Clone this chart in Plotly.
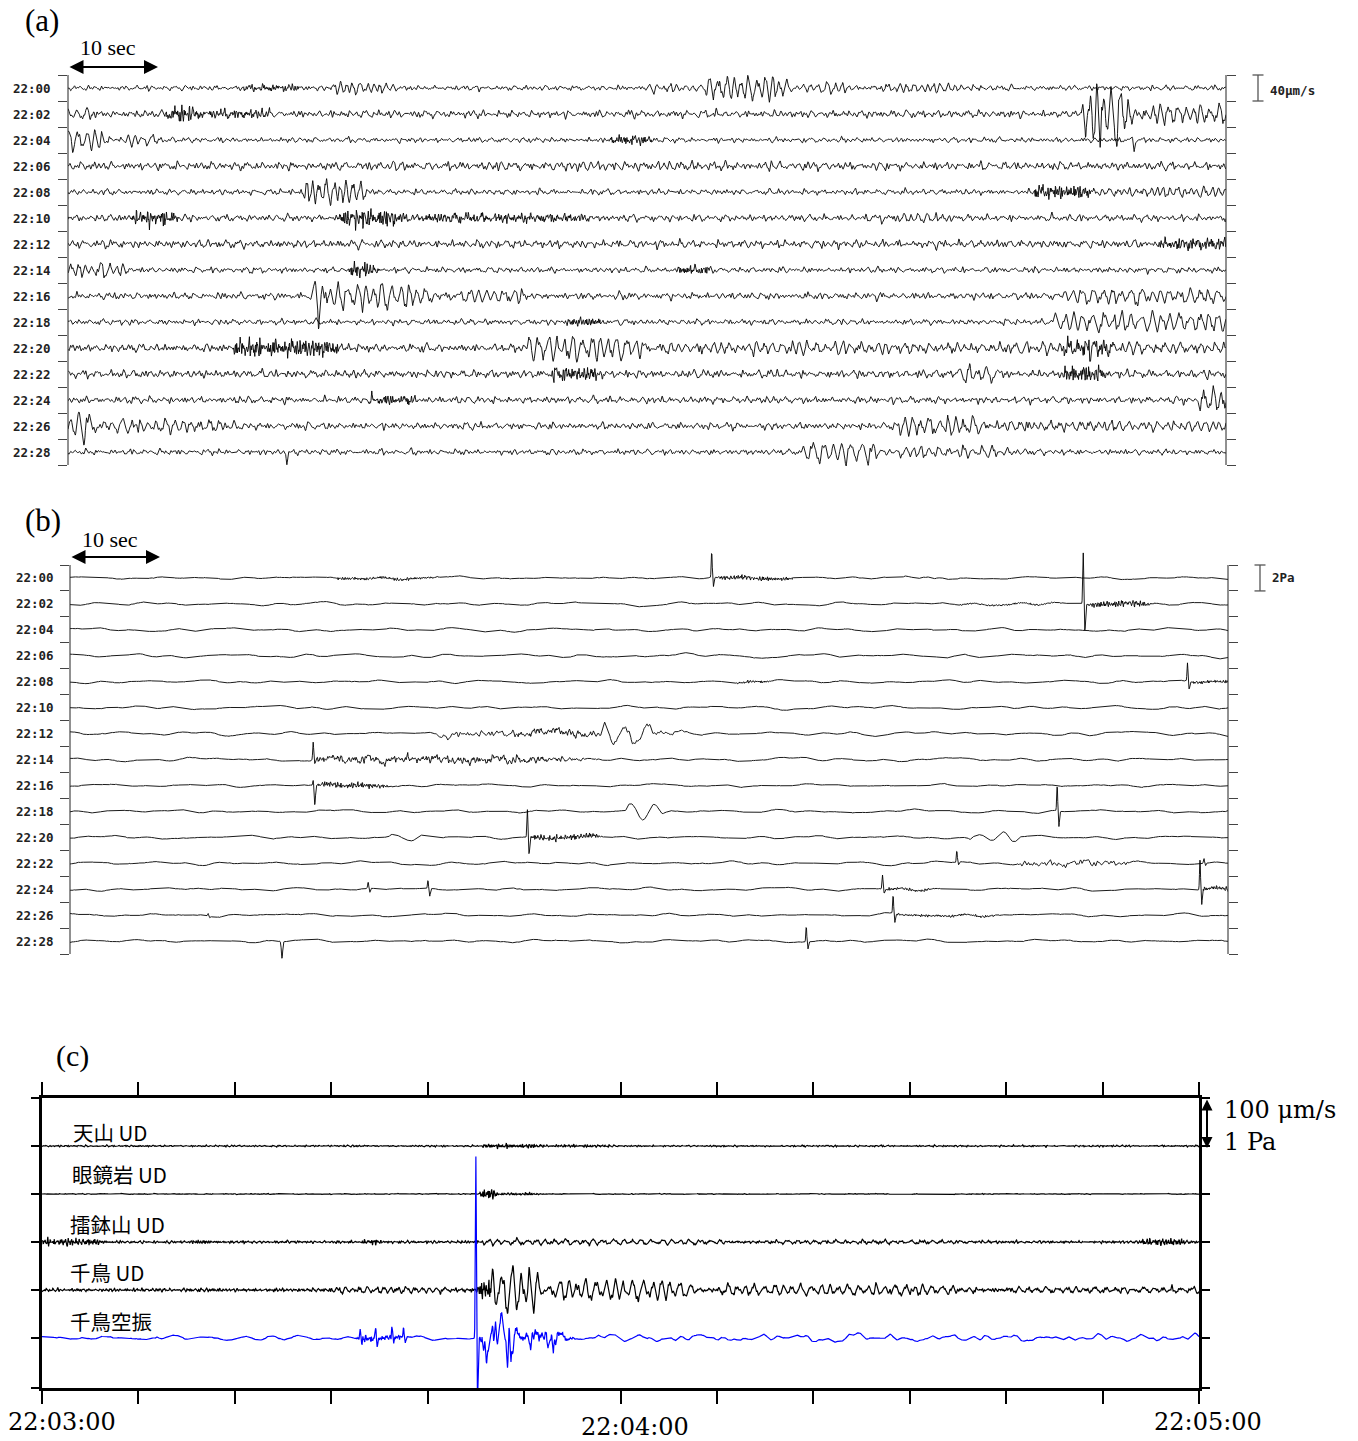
import numpy as np
import plotly.graph_objects as go

W, H = 1358, 1441
DT = 0.04
T = np.arange(0.0, 120.0 + DT / 2, DT)          # seconds within one 2-minute line

# ---------------- panel (a): seismic velocity, 2-minute lines ----------------
A_LINES = ["22:00", "22:02", "22:04", "22:06", "22:08", "22:10", "22:12", "22:14",
           "22:16", "22:18", "22:20", "22:22", "22:24", "22:26", "22:28"]
A_SPACING = 40.0                                  # μm/s between lines
A_NOISE = [4.5, 6.5, 4.5, 7, 5, 6, 7, 5, 6, 5, 7, 7, 6, 6, 5]   # background level, μm/s
# (line, kind, start s, end s, amplitude μm/s, period s)
A_EVENTS = [
    (0, "burst", 18, 25, 5, 0), (0, "osc", 27, 35, 8, 0.7), (0, "osc", 60, 66, 6, 0.75),
    (0, "osc", 66, 76, 18, 0.8), (0, "osc", 76, 82, 7, 0.8), (0, "osc", 83, 97, 5, 0.7),
    (1, "osc", 0, 3.5, 6, 0.8), (1, "burst", 10, 14.5, 12, 0), (1, "burst", 14.5, 22, 6, 0),
    (1, "osc", 105, 111, 42, 0.8), (1, "osc", 111, 120, 14, 0.85),
    (2, "osc", 0, 5, 16, 0.85), (2, "osc", 5, 10, 8, 0.85), (2, "burst", 56, 61, 7, 0),
    (3, "osc", 30, 90, 3, 0.7),
    (4, "osc", 24, 32, 18, 0.7), (4, "burst", 100, 107, 11, 0), (4, "osc", 107, 120, 6, 0.7),
    (5, "burst", 6.5, 12, 11, 0), (5, "burst", 28, 36, 14, 0), (5, "burst", 36, 57, 6, 0),
    (5, "osc", 84, 92, 5, 0.8),
    (6, "burst", 113, 120, 8, 0),
    (7, "osc", 0, 7.5, 9, 0.8), (7, "burst", 29, 32.5, 11, 0), (7, "burst", 63, 67, 7, 0),
    (8, "osc", 25, 40, 18, 0.9), (8, "osc", 40, 50, 8, 0.9), (8, "osc", 103, 120, 11, 1.0),
    (9, "burst", 51.5, 56, 7, 0), (9, "osc", 102, 120, 14, 1.0),
    (10, "burst", 17, 30, 14, 0), (10, "osc", 47.5, 61.5, 18, 0.9),
    (10, "osc", 61.5, 120, 7, 0.9), (10, "burst", 103, 109, 11, 0),
    (11, "burst", 50, 56, 10, 0), (11, "osc", 92, 97, 12, 1.0), (11, "burst", 103, 108, 13, 0),
    (12, "burst", 31, 37, 7, 0), (12, "osc", 117, 120, 20, 0.8),
    (13, "osc", 0, 3.5, 22, 1.0), (13, "osc", 3.5, 20, 9, 0.9),
    (13, "osc", 86, 96, 14, 0.9), (13, "osc", 96, 120, 6, 0.8),
    (14, "osc", 76, 86, 16, 1.0), (14, "osc", 86, 100, 7, 0.9),
]
# (line, time s, upward peak, downward peak)
A_PULSES = [(2, 110.3, 3, 17), (8, 25.8, 0, 28), (14, 22.5, 0, 20)]

# ---------------- panel (b): infrasound pressure, 2-minute lines ----------------
B_LINES = A_LINES
B_SPACING = 2.0                                   # Pa between lines
B_SWELL = [0.13, 0.18, 0.18, 0.2, 0.16, 0.18, 0.22, 0.18, 0.14, 0.16, 0.16, 0.18, 0.16, 0.15, 0.15]
B_EVENTS = [
    (0, "burst", 27.5, 39.5, 0.12, 0), (0, "burst", 67, 76, 0.2, 0), (0, "wave", 86, 91, 0.1, 2),
    (1, "burst", 92, 104, 0.07, 0), (1, "burst", 105.5, 113, 0.28, 0),
    (4, "burst", 69, 73, 0.12, 0), (4, "burst", 116.2, 120, 0.15, 0),
    (6, "rough", 38, 67, 0.3, 0), (6, "wave", 55, 61, 1.0, 2.2), (6, "burst", 46, 56, 0.15, 0),
    (7, "rough", 25.5, 57, 0.35, 0), (7, "burst", 25.5, 57, 0.15, 0),
    (8, "burst", 25.5, 34, 0.25, 0),
    (9, "wave", 57.5, 62, 0.7, 3),
    (10, "burst", 47.6, 56, 0.25, 0), (10, "wave", 33, 37, 0.35, 3), (10, "wave", 93, 99, 0.5, 3),
    (11, "rough", 98, 112, 0.3, 0),
    (12, "burst", 84.5, 90, 0.12, 0), (12, "burst", 117.3, 120, 0.2, 0),
    (13, "burst", 85.5, 98, 0.1, 0),
]
B_PULSES = [
    (0, 66.5, 2.0, 0.7), (1, 105.0, 4.0, 2.1), (4, 115.8, 1.45, 0.6),
    (7, 25.2, 1.4, 0.3), (8, 25.2, 0.4, 1.5), (9, 102.3, 2.0, 1.2),
    (10, 47.4, 2.15, 1.3), (11, 91.9, 0.9, 0.2), (11, 117.5, 0.4, 0.2),
    (12, 30.9, 0.5, 0.3), (12, 37.1, 0.6, 0.6), (12, 84.2, 1.1, 0.3), (12, 117.1, 2.5, 1.15),
    (13, 14.3, 0.2, 0.1), (13, 85.3, 1.4, 0.7), (14, 21.8, 0.0, 1.3), (14, 76.3, 1.2, 0.55),
]

# ---------------- panel (c): 22:03:00-22:05:00 record section ----------------
C_LABELS = ["天山 UD", "眼鏡岩 UD", "擂鉢山 UD", "千鳥 UD", "千鳥空振"]
C_TIME_LABELS = ["22:03:00", "22:04:00", "22:05:00"]
C_SPACING = 96.0                                  # μm/s between lines
C_PA_SCALE = 100.0                                # 1 Pa drawn as 100 μm/s
C_NOISE = [2.0, 1.0, 3.0, 4.0, 0.04]              # μm/s (last line: Pa)
C_EVENTS = [
    (0, "burst", 45.5, 53, 5, 0), (0, "burst", 53, 60, 2.5, 0),
    (1, "burst", 45.3, 47.5, 12, 0), (1, "burst", 47.5, 52, 3, 0),
    (2, "burst", 0, 7, 8, 0), (2, "burst", 15.5, 17.5, 6, 0), (2, "burst", 33, 35.5, 7, 0),
    (2, "burst", 114, 119.5, 8, 0), (2, "osc", 45.5, 75, 5, 1.0), (2, "osc", 75, 100, 3, 1.0),
    (3, "osc", 30, 44.8, 6, 0.8), (3, "burst", 45.1, 47, 22, 0), (3, "osc", 46.5, 52.5, 46, 0.95),
    (3, "osc", 52.5, 70, 20, 0.97), (3, "osc", 70, 100, 10, 0.97), (3, "osc", 100, 120, 5, 1.0),
    (4, "wave", 12, 31, 0.05, 3.3), (4, "burst", 32.5, 38, 0.07, 0),
    (4, "rough", 45.4, 50, 0.5, 0), (4, "rough", 50, 55, 0.25, 0),
    (4, "burst", 45.4, 56, 0.08, 0), (4, "swell", 57, 120, 0.08, 0),
]
C_PULSES = [(4, 45.0, 3.66, 1.2), (4, 33.0, 0.2, 0.1), (4, 34.6, 0.25, 0.15),
            (4, 36.3, 0.24, 0.1), (4, 37.5, 0.18, 0.12)]


def fx(px):
    return px / W


def fy(py):
    return 1.0 - py / H


def texture(t, key, f_lo, f_hi, n=9):
    """Deterministic quasi-periodic texture with unit RMS."""
    k = np.arange(n)
    freqs = f_lo * (f_hi / f_lo) ** (k / (n - 1)) * (1.0 + 0.04 * np.sin(2.399 * k + key))
    phases = 2 * np.pi * ((0.6180339 * key * (k + 1) + 0.7548776 * k + 0.5698403 * k * k) % 1.0)
    s = np.sin(2 * np.pi * freqs[:, None] * t[None, :] + phases[:, None]).sum(axis=0)
    return s / np.sqrt(n / 2.0)


def envelope(t, t0, t1):
    dur = max(t1 - t0, 1e-6)
    rise = min(0.25, 0.2 * dur)
    fall = 0.3 * dur
    a = np.ones_like(t) if t0 <= 0 else np.clip((t - t0) / rise, 0.0, 1.0)
    b = np.ones_like(t) if t1 >= T[-1] else np.clip((t1 - t) / fall, 0.0, 1.0)
    a = np.where(t < t0, 0.0, a)
    b = np.where(t > t1, 0.0, b)
    return a * (b * b * (3 - 2 * b))


def carrier(t, key, period, rough=True):
    ph = 2 * np.pi * t / period + 0.9 * np.sin(2 * np.pi * t / (4.7 * period) + key)
    mod = 0.75 + 0.25 * np.sin(2 * np.pi * t / (2.6 * period) + 1.3 * key)
    s = np.sin(ph) * mod
    if rough:
        s = s + 0.15 * texture(t, key + 101, 1.8 / period, 4.0 / period, 5)
    return s


def pulse(t, tp, up, down):
    return up * np.exp(-((t - tp) / 0.07) ** 2) - down * np.exp(-((t - tp - 0.17) / 0.09) ** 2)


def build_line(key, base, band, events, pulses, fine=0.0, n_base=15):
    y = base / 2.5 * texture(T, key, band[0], band[1], n_base)
    if fine:
        y = y + fine * texture(T, key + 500, 1.0, 5.0, 7)
    for j, (kind, t0, t1, amp, per) in enumerate(events):
        env = envelope(T, t0, t1)
        ek = key * 13 + j
        if kind == "burst":
            s = texture(T, ek, 2.5, 9.0, 11) / 2.5
        elif kind == "rough":
            s = texture(T, ek, 0.3, 3.5, 13) / 2.5
        elif kind == "swell":
            s = texture(T, ek, 0.1, 0.9, 11) / 2.5
        elif kind == "osc":
            s = carrier(T, ek, per, True)
        else:
            s = carrier(T, ek, per, False)
        y = y + amp * env * s
    for (tp, up, down) in pulses:
        y = y + pulse(T, tp, up, down)
    return y


def stack(n_lines, spacing, make):
    xs, ys = [], []
    for i in range(n_lines):
        xs.append(T)
        ys.append(make(i) - spacing * i)
        xs.append(np.array([np.nan]))
        ys.append(np.array([np.nan]))
    return np.round(np.concatenate(xs), 3), np.round(np.concatenate(ys), 3)


def events_for(events, i):
    return [e[1:] for e in events if e[0] == i]


def pulses_for(pulses, i):
    return [p[1:] for p in pulses if p[0] == i]


xa, ya = stack(len(A_LINES), A_SPACING, lambda i: build_line(
    i + 1, A_NOISE[i], (0.6, 4.0), events_for(A_EVENTS, i), pulses_for(A_PULSES, i)))
xb, yb = stack(len(B_LINES), B_SPACING, lambda i: build_line(
    i + 31, B_SWELL[i], (0.05, 0.35), events_for(B_EVENTS, i), pulses_for(B_PULSES, i),
    fine=0.012, n_base=9))

c_seis_x, c_seis_y = [], []
for i in range(4):
    yy = build_line(i + 61, C_NOISE[i], (1.5, 6.0), events_for(C_EVENTS, i), pulses_for(C_PULSES, i))
    c_seis_x += [T, np.array([np.nan])]
    c_seis_y += [yy - C_SPACING * i, np.array([np.nan])]
c_seis_x = np.round(np.concatenate(c_seis_x), 3)
c_seis_y = np.round(np.concatenate(c_seis_y), 3)
c_infra = build_line(65, C_NOISE[4], (0.08, 0.5), events_for(C_EVENTS, 4), pulses_for(C_PULSES, 4),
                     fine=0.004, n_base=9)
c_infra_y = np.round(c_infra * C_PA_SCALE - C_SPACING * 4, 3)

fig = go.Figure()
fig.add_trace(go.Scatter(x=xa, y=ya, mode="lines", line=dict(color="black", width=0.9),
                         xaxis="x", yaxis="y", hoverinfo="skip"))
fig.add_trace(go.Scatter(x=xb, y=yb, mode="lines", line=dict(color="black", width=0.9),
                         xaxis="x2", yaxis="y2", hoverinfo="skip"))
fig.add_trace(go.Scatter(x=c_seis_x, y=c_seis_y, mode="lines", line=dict(color="black", width=1.2),
                         xaxis="x3", yaxis="y3", hoverinfo="skip"))
fig.add_trace(go.Scatter(x=np.round(T, 3), y=c_infra_y, mode="lines", line=dict(color="#0000ff", width=1.2),
                         xaxis="x3", yaxis="y3", hoverinfo="skip"))

n_a = len(A_LINES)
n_b = len(B_LINES)

# pixel frames of the two line stacks: (left, right, first tick, last tick, extra above, extra below)
A_FRAME = (68, 1226, 75, 465, 12, 14)
B_FRAME = (70, 1228, 565, 954, 22, 12)


def stack_axes(frame, spacing, n):
    left, right, top, bottom, extra_top, extra_bot = frame
    per_px = spacing * n / (bottom - top)
    top_val = spacing * 0.5
    bot_val = -spacing * (n - 0.5)
    ydom = [fy(bottom + extra_bot), fy(top - extra_top)]
    yrng = [bot_val - extra_bot * per_px, top_val + extra_top * per_px]
    ticks = [spacing * (0.5 - k) for k in range(n + 1)]
    return [fx(left), fx(right)], ydom, yrng, ticks, (top_val, bot_val)


a_xdom, a_ydom, a_yrng, a_ticks, a_span = stack_axes(A_FRAME, A_SPACING, n_a)
b_xdom, b_ydom, b_yrng, b_ticks, b_span = stack_axes(B_FRAME, B_SPACING, n_b)

hidden_x = dict(range=[0, 120], visible=False, fixedrange=True)
row_axis = dict(showticklabels=False, ticks="outside", ticklen=9, tickwidth=1, tickcolor="#444",
                showline=False, mirror="ticks", showgrid=False, zeroline=False, fixedrange=True)

fig.update_layout(
    width=W, height=H, margin=dict(l=0, r=0, t=0, b=0),
    paper_bgcolor="white", plot_bgcolor="white", showlegend=False,
    xaxis=dict(domain=a_xdom, anchor="y", **hidden_x),
    yaxis=dict(domain=a_ydom, anchor="x", range=a_yrng, tickvals=a_ticks, **row_axis),
    xaxis2=dict(domain=b_xdom, anchor="y2", **hidden_x),
    yaxis2=dict(domain=b_ydom, anchor="x2", range=b_yrng, tickvals=b_ticks, **row_axis),
    xaxis3=dict(domain=[fx(42), fx(1199)], anchor="y3", range=[0, 120],
                tickvals=list(range(0, 121, 10)), showticklabels=False,
                ticks="outside", ticklen=13, tickwidth=1.5, tickcolor="black",
                showline=True, linecolor="black", linewidth=3, mirror="allticks",
                showgrid=False, zeroline=False, fixedrange=True),
    yaxis3=dict(domain=[fy(1388), fy(1098)], anchor="x3",
                range=[-C_SPACING * 4 - 100, C_SPACING],
                tickvals=[C_SPACING] + [-C_SPACING * k for k in range(5)] + [-C_SPACING * 4 - 100],
                showticklabels=False, ticks="outside", ticklen=8, tickwidth=1.5, tickcolor="black",
                showline=True, linecolor="black", linewidth=3, mirror="allticks",
                showgrid=False, zeroline=False, fixedrange=True),
)

ann = []
serif = "DejaVu Serif"
label_serif = "Liberation Serif"
mono = dict(family="DejaVu Sans Mono", size=12.5, color="#222", weight="bold")

# line labels of panels (a) and (b)
for i, lab in enumerate(A_LINES):
    ann.append(dict(text=lab, x=fx(53), xref="paper", xanchor="right", y=-A_SPACING * i, yref="y",
                    yanchor="middle", showarrow=False, font=mono))
for i, lab in enumerate(B_LINES):
    ann.append(dict(text=lab, x=fx(56), xref="paper", xanchor="right", y=-B_SPACING * i, yref="y2",
                    yanchor="middle", showarrow=False, font=mono))

# panel letters
for txt, cx, cy, size in [("(a)", 42, 20, 31), ("(b)", 43, 520, 31), ("(c)", 72, 1056, 30)]:
    ann.append(dict(text=txt, x=fx(cx), y=fy(cy), xref="paper", yref="paper", xanchor="center",
                    yanchor="middle", showarrow=False, font=dict(family=label_serif, size=size, color="black")))

# 10-second bars
for cx, cy, x0, x1, ya_ in [(108, 48, 68, 158, 67), (110, 539, 70, 160, 557)]:
    ann.append(dict(text="10 sec", x=fx(cx), y=fy(cy), xref="paper", yref="paper", xanchor="center",
                    yanchor="middle", showarrow=False, font=dict(family=label_serif, size=22, color="black")))
    ann.append(dict(text="", x=fx(x1), y=fy(ya_), xref="paper", yref="paper", ax=-(x1 - x0), ay=0,
                    axref="pixel", ayref="pixel", showarrow=True, arrowhead=2, arrowsize=1.4,
                    arrowwidth=2, arrowside="end+start", arrowcolor="black"))

# amplitude scale labels
ann.append(dict(text="40μm/s", x=fx(1268), xref="paper", xanchor="left", y=-0.1 * A_SPACING, yref="y",
                yanchor="middle", showarrow=False, font=mono))
ann.append(dict(text="2Pa", x=fx(1270), xref="paper", xanchor="left", y=0.0, yref="y2",
                yanchor="middle", showarrow=False, font=mono))

# station labels in panel (c)
for i, (lab, lx, ly) in enumerate(zip(C_LABELS, [71, 70, 68, 68, 68], [1132, 1174, 1224, 1272, 1321])):
    ann.append(dict(text=lab, x=fx(lx), y=fy(ly), xref="paper", yref="paper", xanchor="left",
                    yanchor="middle", showarrow=False,
                    font=dict(family="Noto Sans CJK JP", size=20.5, color="black")))

# time labels of panel (c)
for lab, cx, cy in zip(C_TIME_LABELS, [62, 635, 1208], [1422, 1427, 1422]):
    ann.append(dict(text=lab, x=fx(cx), y=fy(cy), xref="paper", yref="paper", xanchor="center",
                    yanchor="middle", showarrow=False, font=dict(family=serif, size=24, color="black")))

# 100 μm/s / 1 Pa scale arrow
ann.append(dict(text="", x=fx(1207), xref="paper", y=C_SPACING - 100, yref="y3", ax=0, axref="pixel",
                ay=C_SPACING, ayref="y3", showarrow=True, arrowhead=2, arrowsize=1.1, arrowwidth=2,
                arrowside="end+start", arrowcolor="black"))
ann.append(dict(text="100 μm/s", x=fx(1222), y=fy(1110), xref="paper", yref="paper", xanchor="left",
                yanchor="middle", showarrow=False, font=dict(family=serif, size=24, color="black")))
ann.append(dict(text="1 Pa", x=fx(1222), y=fy(1142), xref="paper", yref="paper", xanchor="left",
                yanchor="middle", showarrow=False, font=dict(family=serif, size=24, color="black")))

fig.update_layout(annotations=ann)

shapes = []
# frame lines of the two line stacks, from first to last tick
for yref, xdom, span in [("y", a_xdom, a_span), ("y2", b_xdom, b_span)]:
    for xv in xdom:
        shapes.append(dict(type="line", xref="paper", yref=yref, x0=xv, x1=xv, y0=span[0], y1=span[1],
                           line=dict(color="#222", width=1)))
# I-shaped amplitude bars for panels (a) and (b)
for yref, half, xc in [("y", A_SPACING / 2, 1258), ("y2", B_SPACING / 2, 1260)]:
    style = dict(color="#555", width=1.3)
    shapes.append(dict(type="line", xref="paper", yref=yref, x0=fx(xc), x1=fx(xc), y0=half, y1=-half, line=style))
    for yy in (half, -half):
        shapes.append(dict(type="line", xref="paper", yref=yref, x0=fx(xc - 5.5), x1=fx(xc + 5.5),
                           y0=yy, y1=yy, line=style))
fig.update_layout(shapes=shapes)

fig.write_html("out.html")
